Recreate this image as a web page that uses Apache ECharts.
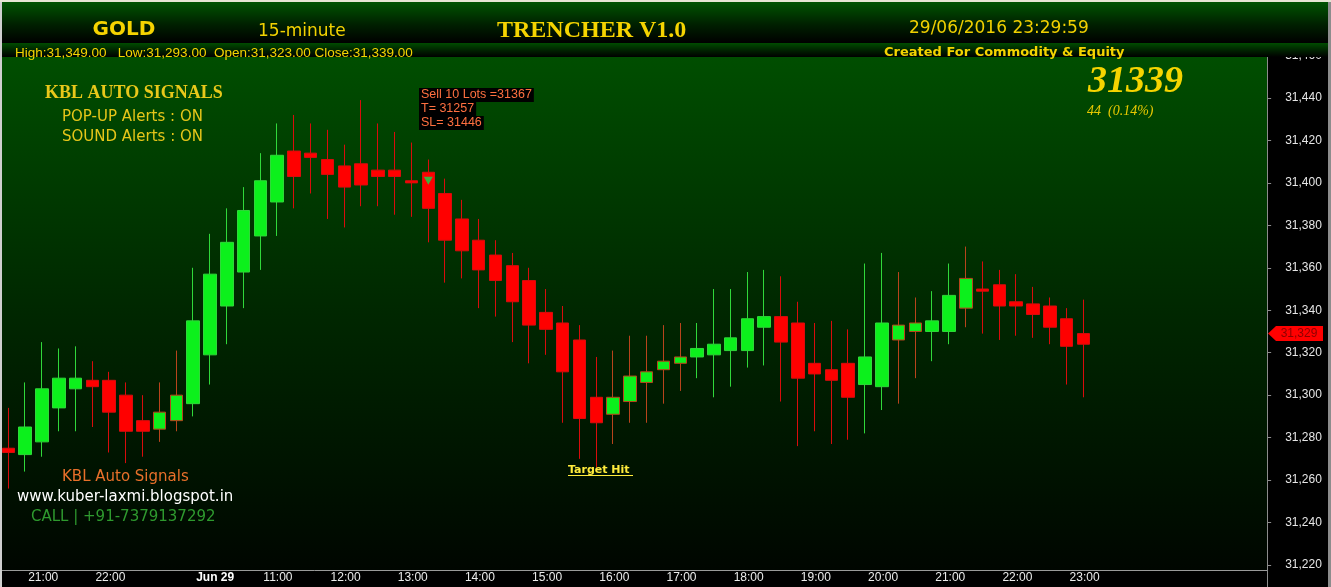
<!DOCTYPE html>
<html>
<head>
<meta charset="utf-8">
<title>GOLD 15-minute</title>
<script src="https://cdn.jsdelivr.net/npm/echarts@6/dist/echarts.min.js"></script>
<style>
  html, body { margin: 0; padding: 0; background: #000; }
  .wrap { position: relative; width: 1331px; height: 587px; overflow: hidden; }
  /* 图表区背景渐变 */
  .bg { position: absolute; left: 0; top: 57px; width: 1267px; height: 513px;
        background: linear-gradient(to bottom, #004e00 0%, #002700 50%, #000600 100%); }
  #chart { position: absolute; left: 0; top: 0; width: 1331px; height: 587px; }
</style>
</head>
<body>
<div class="wrap"><div class="bg"></div><div id="chart"></div></div>
<script>
// 时间（15分钟K线）
var times28 = ['20:45', '21:00', '21:15', '21:30', '21:45', '22:00', '22:15', '22:30', '22:45', '23:00', '23:15'];
var times29 = ['10:00', '10:15', '10:30', '10:45', '11:00', '11:15', '11:30', '11:45', '12:00', '12:15', '12:30', '12:45',
  '13:00', '13:15', '13:30', '13:45', '14:00', '14:15', '14:30', '14:45', '15:00', '15:15', '15:30', '15:45',
  '16:00', '16:15', '16:30', '16:45', '17:00', '17:15', '17:30', '17:45', '18:00', '18:15', '18:30', '18:45',
  '19:00', '19:15', '19:30', '19:45', '20:00', '20:15', '20:30', '20:45', '21:00', '21:15', '21:30', '21:45',
  '22:00', '22:15', '22:30', '22:45', '23:00', '23:15'];
// 不显示的整点标签（与日期标签重叠）
var hiddenLabels = ['Jun 28 23:00'];

// 开 收 低 高
var opens = [31275, 31272, 31278, 31294, 31303, 31307, 31307, 31300, 31288, 31284, 31288,
  31296, 31319, 31342, 31358, 31375, 31391, 31415, 31414, 31411, 31408, 31409, 31406, 31406, 31401, 31405,
  31395, 31383, 31373, 31366, 31361, 31354, 31339, 31334, 31326, 31299, 31291, 31297, 31306, 31312, 31315,
  31318, 31319, 31321, 31321, 31332, 31337, 31334, 31315, 31312, 31315, 31305, 31304, 31326, 31330, 31330,
  31330, 31341, 31350, 31352, 31344, 31343, 31342, 31336, 31329];
var closes = [31273, 31285, 31303, 31308, 31308, 31304, 31292, 31283, 31283, 31292, 31300,
  31335, 31357, 31372, 31387, 31401, 31413, 31403, 31412, 31404, 31398, 31399, 31403, 31403, 31400, 31388,
  31373, 31368, 31359, 31354, 31344, 31333, 31331, 31311, 31289, 31287, 31299, 31309, 31311, 31316, 31318,
  31322, 31324, 31327, 31336, 31337, 31325, 31308, 31310, 31307, 31299, 31318, 31334, 31333, 31334, 31335,
  31347, 31355, 31349, 31342, 31342, 31338, 31332, 31323, 31324];
var lows = [31256, 31264, 31271, 31283, 31283, 31285, 31273, 31268, 31271, 31278, 31283,
  31290, 31305, 31324, 31341, 31359, 31375, 31388, 31395, 31383, 31379, 31389, 31389, 31385, 31384, 31372,
  31353, 31355, 31341, 31337, 31325, 31315, 31319, 31287, 31270, 31266, 31277, 31287, 31287, 31296, 31302,
  31308, 31299, 31304, 31313, 31314, 31297, 31276, 31283, 31277, 31279, 31282, 31293, 31296, 31308, 31316,
  31324, 31332, 31329, 31326, 31328, 31327, 31324, 31305, 31299];
var highs = [31294, 31306, 31325, 31322, 31323, 31316, 31311, 31306, 31300, 31306, 31321,
  31360, 31376, 31388, 31398, 31414, 31428, 31432, 31428, 31425, 31418, 31439, 31428, 31424, 31419, 31411,
  31402, 31392, 31383, 31373, 31367, 31360, 31350, 31342, 31333, 31318, 31321, 31328, 31328, 31333, 31334,
  31334, 31350, 31350, 31358, 31359, 31356, 31344, 31334, 31335, 31331, 31362, 31367, 31358, 31346, 31349,
  31362, 31370, 31363, 31359, 31357, 31351, 31346, 31341, 31345];

// 带红色描边的阳线
var outlined = [9, 10, 36, 37, 38, 39, 40, 53, 54, 57];

// 信号与最新价
var signalIndex = 25;
var signalPrice = 31401;
var lastPrice = 31329;

// y轴刻度
var yMin = 31220;
var yMax = 31460;
var yStep = 20;

(function() {
  var myChart = echarts.init(document.getElementById('chart'));

  var categories = times28.map(function (t) { return 'Jun 28 ' + t; })
    .concat(times29.map(function (t) { return 'Jun 29 ' + t; }));

  var candles = opens.map(function (o, i) {
    var item = { value: [o, closes[i], lows[i], highs[i]] };
    if (outlined.indexOf(i) > -1) {
      item.itemStyle = { borderColor: '#b8441c' };
    }
    return item;
  });

  function addCommas(v) {
    return String(v).replace(/\B(?=(\d{3})+(?!\d))/g, ',');
  }

  // 只显示整点
  function onHour(index, value) {
    return !!value && value.slice(-2) === '00' && hiddenLabels.indexOf(value) < 0;
  }

  var option = {
    animation: false,
    grid: {
      left: -1,
      right: 71.25,
      top: 55.5,
      bottom: 22
    },
    xAxis: {
      type: 'category',
      data: categories,
      max: 74,
      offset: 5,
      boundaryGap: true,
      axisLine: { lineStyle: { color: '#9a9a9a', width: 1 } },
      axisTick: {
        alignWithLabel: true,
        interval: onHour,
        length: 5,
        lineStyle: { color: '#9a9a9a' }
      },
      axisLabel: {
        interval: onHour,
        align: 'left',
        padding: [0, 0, 0, 3],
        margin: 2,
        color: '#ececec',
        fontSize: 12,
        fontFamily: 'Liberation Sans',
        formatter: function (value) {
          if (!value) return '';
          var t = value.slice(-5);
          if (value.indexOf('Jun 29') === 0 && t === '10:00') return '{b|Jun 29}';
          return t;
        },
        rich: {
          b: { fontWeight: 'bold', color: '#ffffff', fontSize: 12, fontFamily: 'Liberation Sans' }
        }
      },
      splitLine: { show: false }
    },
    yAxis: {
      type: 'value',
      position: 'right',
      min: yMin,
      max: yMax,
      interval: yStep,
      offset: 7.4,
      axisLine: { show: true, lineStyle: { color: '#8c8c8c' } },
      axisTick: { show: true, length: 4, lineStyle: { color: '#8c8c8c' } },
      axisLabel: {
        margin: 18,
        color: '#e6e6e6',
        fontSize: 12,
        fontFamily: 'Liberation Sans',
        formatter: function (v) { return addCommas(v); }
      },
      splitLine: { show: false }
    },
    series: [
      {
        type: 'candlestick',
        data: candles,
        barWidth: 13,
        silent: true,
        itemStyle: {
          color: '#0cf01c',
          color0: '#ff0000',
          borderColor: '#30d83a',
          borderColor0: '#d80c0c',
          borderWidth: 1
        },
        markPoint: {
          symbol: 'triangle',
          symbolRotate: 180,
          symbolSize: [9, 8],
          silent: true,
          itemStyle: { color: '#3fae3f' },
          label: { show: false },
          data: [{ coord: [signalIndex, signalPrice] }]
        }
      }
    ]
  };
  myChart.setOption(option);

  // 最新价标签位置
  var py = myChart.convertToPixel({ yAxisIndex: 0 }, lastPrice);

  function txt(text, x, y, font, color, extra) {
    var s = { text: text, x: x, y: y + 2, font: font, fill: color, verticalAlign: 'middle' };
    for (var k in extra) s[k] = extra[k];
    return { type: 'text', z: 101, silent: true, style: s };
  }
  function grad(c1, c2, c3) {
    return { type: 'linear', x: 0, y: 0, x2: 0, y2: 1,
      colorStops: [{ offset: 0, color: c1 }, { offset: 0.55, color: c2 }, { offset: 1, color: c3 }] };
  }

  var graphics = [
    // 顶部标题栏
    { type: 'rect', z: 100, silent: true, shape: { x: 0, y: 0, width: 1331, height: 2 }, style: { fill: '#e6e6d2' } },
    { type: 'rect', z: 100, silent: true, shape: { x: 0, y: 2, width: 1331, height: 41 }, style: { fill: grad('#005400', '#002000', '#000000') } },
    { type: 'rect', z: 100, silent: true, shape: { x: 0, y: 43, width: 1331, height: 14 }, style: { fill: grad('#004c00', '#002000', '#000000') } },
    // 边框
    { type: 'rect', z: 100, silent: true, shape: { x: 0, y: 2, width: 2, height: 585 }, style: { fill: '#cfcfcf' } },
    { type: 'rect', z: 100, silent: true, shape: { x: 1328, y: 2, width: 3, height: 585 }, style: { fill: '#8c8c8c' } },
    // 轴线延伸
    { type: 'line', z: 5, silent: true, shape: { x1: 1259, y1: 570.5, x2: 1267, y2: 570.5 }, style: { stroke: '#9a9a9a', lineWidth: 1 } },
    { type: 'line', z: 5, silent: true, shape: { x1: 1267.5, y1: 565, x2: 1267.5, y2: 587 }, style: { stroke: '#8c8c8c', lineWidth: 1 } },

    txt('GOLD', 124, 28, 'bold 20px "DejaVu Sans"', '#f5d400', { align: 'center' }),
    txt('15-minute', 258, 30, '17px "DejaVu Sans"', '#f2d200'),
    txt('TRENCHER V1.0', 497, 29, 'bold 24px "Liberation Serif"', '#f5d400'),
    txt('29/06/2016 23:29:59', 909, 27, '17px "DejaVu Sans"', '#f0d000'),
    txt('High:31,349.00   Low:31,293.00  Open:31,323.00 Close:31,339.00', 15, 51, '13.5px "Liberation Sans Narrow", "Liberation Sans"', '#f5d400'),
    txt('Created For Commodity & Equity', 884, 51, 'bold 13px "DejaVu Sans"', '#f5d400'),

    txt('31339', 1088, 80, 'italic bold 38px "Liberation Serif"', '#f5d400'),
    txt('44  (0.14%)', 1087, 109, 'italic 14px "Liberation Serif"', '#e6c800'),

    txt('KBL AUTO SIGNALS', 45, 91, 'bold 18px "Liberation Serif"', '#e8c81a'),
    txt('POP-UP Alerts : ON', 62, 115, '15px "DejaVu Sans"', '#e6c619'),
    txt('SOUND Alerts : ON', 62, 135, '15px "DejaVu Sans"', '#e6c619'),

    // 卖出信号
    txt('Sell 10 Lots =31367', 419, 93, '12.5px "Liberation Sans"', '#ff7040', { backgroundColor: '#000', padding: [1, 2, 0, 2] }),
    txt('T= 31257', 419, 107, '12.5px "Liberation Sans"', '#ff7040', { backgroundColor: '#000', padding: [1, 2, 0, 2] }),
    txt('SL= 31446', 419, 121, '12.5px "Liberation Sans"', '#ff7040', { backgroundColor: '#000', padding: [1, 2, 0, 2] }),

    txt('Target Hit', 568, 468, 'bold 11px "DejaVu Sans"', '#ffec3c'),
    { type: 'line', z: 101, silent: true, shape: { x1: 568, y1: 475.5, x2: 633, y2: 475.5 }, style: { stroke: '#ffec3c', lineWidth: 1 } },

    txt('KBL Auto Signals', 62, 475, '15px "DejaVu Sans"', '#e8702a'),
    txt('www.kuber-laxmi.blogspot.in', 17, 495, '15px "DejaVu Sans"', '#ffffff'),
    txt('CALL | +91-7379137292', 31, 515, '15px "DejaVu Sans"', '#2e9a2e'),

    // 最新价
    { type: 'polygon', z: 102, silent: true,
      shape: { points: [[1268, py], [1276, py - 7.5], [1323, py - 7.5], [1323, py + 7.5], [1276, py + 7.5]] },
      style: { fill: '#ff0000' } },
    txt(addCommas(lastPrice), 1299, py - 2, '12px "Liberation Sans"', '#8c0000', { align: 'center' })
  ];
  graphics[graphics.length - 1].z = 103;

  myChart.setOption({ graphic: graphics });

  window.addEventListener('resize', function () {
    myChart.resize();
  });
})();
</script>
</body>
</html>
